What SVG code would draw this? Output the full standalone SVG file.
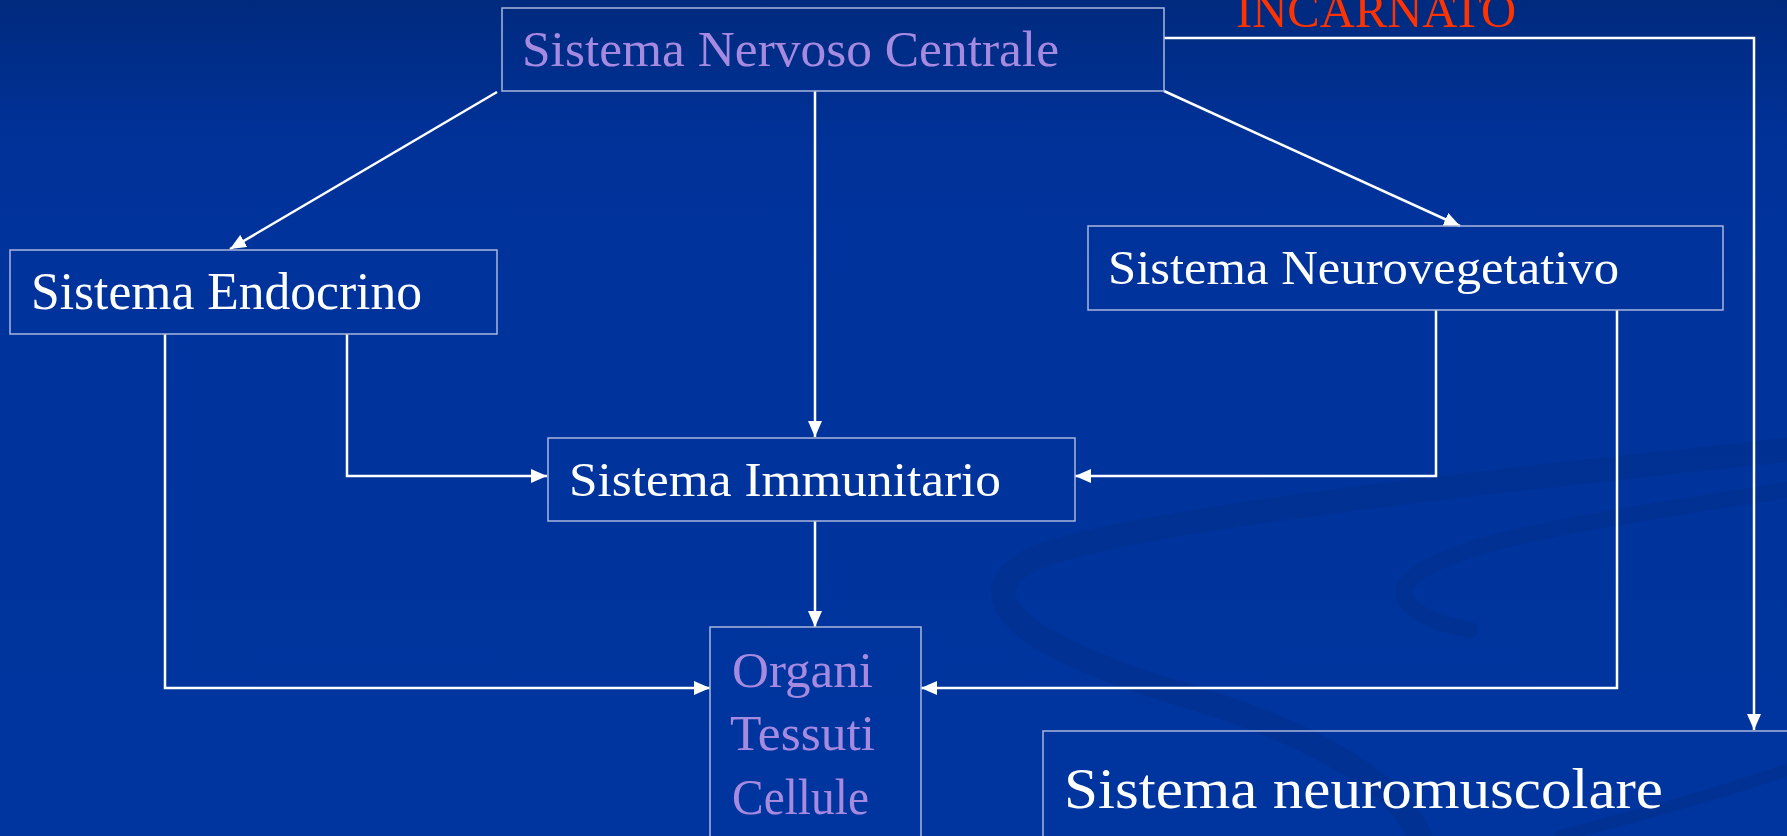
<svg xmlns="http://www.w3.org/2000/svg" width="1787" height="836" viewBox="0 0 1787 836">
<defs>
<linearGradient id="bg" x1="0" y1="0" x2="0" y2="1">
<stop offset="0" stop-color="#002a7e"/>
<stop offset="0.18" stop-color="#00329a"/>
<stop offset="1" stop-color="#00359f"/>
</linearGradient>
<marker id="ah" viewBox="0 0 16 14" refX="16" refY="7" markerWidth="16" markerHeight="14" markerUnits="userSpaceOnUse" orient="auto">
<path d="M0,0 L16,7 L0,14 Z" fill="#ffffff"/>
</marker>
<style>
.box{fill:none;stroke:#a9b6dc;stroke-width:1.5}
.w{fill:#ffffff;font-family:"Liberation Serif",serif}
.l{fill:#a68ae0;font-family:"Liberation Serif",serif}
.c{fill:none;stroke:#ffffff;stroke-width:2.5}
.sw{fill:none;stroke:#00308f;stroke-linecap:round}
</style>
</defs>
<rect width="1787" height="836" fill="url(#bg)"/>
<g id="swoosh" opacity="0.7">
<path class="sw" stroke-width="24" d="M1787,450 C1500,480 1120,520 1030,560 C960,600 1030,650 1200,700 C1330,740 1400,790 1420,836"/>
<path class="sw" stroke-width="16" d="M1787,490 C1600,520 1450,540 1410,580 C1390,600 1420,620 1470,630"/>
<path class="sw" stroke-width="12" d="M1787,770 C1700,800 1620,820 1560,836"/>
</g>
<g id="connectors">
<polyline class="c" points="497,92 230,249" marker-end="url(#ah)"/>
<polyline class="c" points="815,91 815,437" marker-end="url(#ah)"/>
<polyline class="c" points="1164,91 1460,226" marker-end="url(#ah)"/>
<polyline class="c" points="1164,38 1754,38 1754,730" marker-end="url(#ah)"/>
<polyline class="c" points="347,334 347,476 547,476" marker-end="url(#ah)"/>
<polyline class="c" points="165,334 165,688 710,688" marker-end="url(#ah)"/>
<polyline class="c" points="1436,310 1436,476 1075,476" marker-end="url(#ah)"/>
<polyline class="c" points="1617,310 1617,688 921,688" marker-end="url(#ah)"/>
<polyline class="c" points="815,521 815,627" marker-end="url(#ah)"/>
</g>
<g id="incarnato">
<text x="1236" y="27" font-size="48" fill="#ff3300" font-family="Liberation Serif,serif" textLength="280" lengthAdjust="spacingAndGlyphs">INCARNATO</text>
</g>
<g id="snc">
<rect class="box" x="502" y="8" width="662" height="83"/>
<text class="l" x="522" y="66" font-size="50" textLength="537" lengthAdjust="spacingAndGlyphs">Sistema Nervoso Centrale</text>
</g>
<g id="endocrino">
<rect class="box" x="10" y="250" width="487" height="84"/>
<text class="w" x="31" y="309" font-size="52" textLength="391" lengthAdjust="spacingAndGlyphs">Sistema Endocrino</text>
</g>
<g id="neurovegetativo">
<rect class="box" x="1088" y="226" width="635" height="84"/>
<text class="w" x="1108" y="284" font-size="49" textLength="511" lengthAdjust="spacingAndGlyphs">Sistema Neurovegetativo</text>
</g>
<g id="immunitario">
<rect class="box" x="548" y="438" width="527" height="83"/>
<text class="w" x="569" y="496" font-size="49" textLength="432" lengthAdjust="spacingAndGlyphs">Sistema Immunitario</text>
</g>
<g id="organi">
<rect class="box" x="710" y="627" width="211" height="220"/>
<text class="l" x="732" y="687" font-size="50" textLength="141" lengthAdjust="spacingAndGlyphs">Organi</text>
<text class="l" x="730" y="750" font-size="50" textLength="145" lengthAdjust="spacingAndGlyphs">Tessuti</text>
<text class="l" x="732" y="814" font-size="50" textLength="137" lengthAdjust="spacingAndGlyphs">Cellule</text>
</g>
<g id="neuromuscolare">
<rect class="box" x="1043" y="731" width="760" height="120"/>
<text class="w" x="1064" y="808" font-size="58" textLength="599" lengthAdjust="spacingAndGlyphs">Sistema neuromuscolare</text>
</g>
</svg>
